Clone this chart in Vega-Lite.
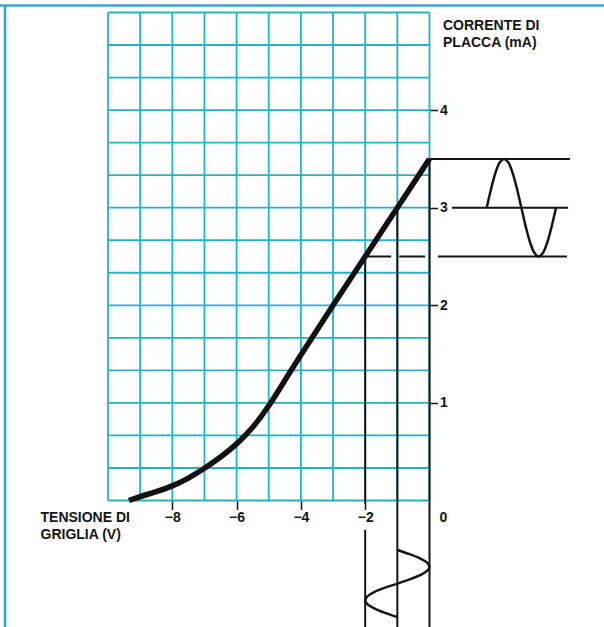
{
  "$schema": "https://vega.github.io/schema/vega-lite/v6.json",
  "width": 604,
  "height": 627,
  "autosize": {"type": "none"},
  "padding": 0,
  "background": "#ffffff",
  "config": {"view": {"stroke": null}, "font": "Liberation Sans"},
  "datasets": {
    "gridV": [{"v": -10}, {"v": -9}, {"v": -8}, {"v": -7}, {"v": -6}, {"v": -5}, {"v": -4}, {"v": -3}, {"v": -2}, {"v": -1}, {"v": 0}],
    "gridH": [{"m": 0}, {"m": 0.3333}, {"m": 0.6667}, {"m": 1}, {"m": 1.3333}, {"m": 1.6667}, {"m": 2}, {"m": 2.3333}, {"m": 2.6667}, {"m": 3}, {"m": 3.3333}, {"m": 3.6667}, {"m": 4}, {"m": 4.3333}, {"m": 4.6667}, {"m": 5}],
    "guides": [
      {"x1": -2, "x2": -2, "y1": 2.5, "y2": -0.03},
      {"x1": -2, "x2": -2, "y1": -0.30, "y2": -1.30},
      {"x1": -1, "x2": -1, "y1": 3, "y2": -1.30},
      {"x1": 0, "x2": 0, "y1": 3.5, "y2": -1.30},
      {"x1": 0, "x2": 4.37, "y1": 3.5, "y2": 3.5},
      {"x1": 0.70, "x2": 4.31, "y1": 3, "y2": 3},
      {"x1": 0.26, "x2": 4.28, "y1": 2.5, "y2": 2.5}
    ],
    "dashed": [{"x1": -2, "x2": 0, "y1": 2.5, "y2": 2.5}],
    "curve": [
      {"vg": -9.35, "ia": 0.0}, {"vg": -9.0, "ia": 0.04}, {"vg": -8.5, "ia": 0.09}, {"vg": -8.0, "ia": 0.15},
      {"vg": -7.5, "ia": 0.23}, {"vg": -7.0, "ia": 0.33}, {"vg": -6.5, "ia": 0.445}, {"vg": -6.0, "ia": 0.58},
      {"vg": -5.5, "ia": 0.75}, {"vg": -5.0, "ia": 0.97}, {"vg": -4.5, "ia": 1.23}, {"vg": -4.0, "ia": 1.49},
      {"vg": -3.0, "ia": 2.0}, {"vg": -2.0, "ia": 2.5}, {"vg": -1.0, "ia": 3.0}, {"vg": 0.0, "ia": 3.5}
    ],
    "sineOut": [
      {"k": 0, "vg": 1.780, "ia": 3.0}, {"k": 1, "vg": 1.915, "ia": 3.191}, {"k": 2, "vg": 2.049, "ia": 3.354},
      {"k": 3, "vg": 2.184, "ia": 3.462}, {"k": 4, "vg": 2.319, "ia": 3.5}, {"k": 5, "vg": 2.453, "ia": 3.462},
      {"k": 6, "vg": 2.588, "ia": 3.354}, {"k": 7, "vg": 2.723, "ia": 3.191}, {"k": 8, "vg": 2.858, "ia": 3.0},
      {"k": 9, "vg": 2.992, "ia": 2.809}, {"k": 10, "vg": 3.127, "ia": 2.646}, {"k": 11, "vg": 3.262, "ia": 2.538},
      {"k": 12, "vg": 3.396, "ia": 2.5}, {"k": 13, "vg": 3.531, "ia": 2.538}, {"k": 14, "vg": 3.666, "ia": 2.646},
      {"k": 15, "vg": 3.800, "ia": 2.809}, {"k": 16, "vg": 3.935, "ia": 3.0}
    ],
    "sineIn": [
      {"k": 0, "vg": -1.0, "ia": -0.507}, {"k": 1, "vg": -0.617, "ia": -0.550}, {"k": 2, "vg": -0.293, "ia": -0.593},
      {"k": 3, "vg": -0.076, "ia": -0.636}, {"k": 4, "vg": 0.0, "ia": -0.679}, {"k": 5, "vg": -0.076, "ia": -0.722},
      {"k": 6, "vg": -0.293, "ia": -0.765}, {"k": 7, "vg": -0.617, "ia": -0.808}, {"k": 8, "vg": -1.0, "ia": -0.851},
      {"k": 9, "vg": -1.383, "ia": -0.893}, {"k": 10, "vg": -1.707, "ia": -0.936}, {"k": 11, "vg": -1.924, "ia": -0.979},
      {"k": 12, "vg": -2.0, "ia": -1.022}, {"k": 13, "vg": -1.924, "ia": -1.065}, {"k": 14, "vg": -1.707, "ia": -1.108},
      {"k": 15, "vg": -1.383, "ia": -1.151}, {"k": 16, "vg": -1.0, "ia": -1.194}
    ]
  },
  "layer": [
    {
      "data": {"name": "gridV"},
      "mark": {"type": "rule", "color": "#22b3c7", "strokeWidth": 1.8},
      "encoding": {
        "x": {"field": "v", "type": "quantitative"},
        "y": {"datum": 0, "type": "quantitative"},
        "y2": {"datum": 5}
      }
    },
    {
      "data": {"name": "gridH"},
      "mark": {"type": "rule", "color": "#22b3c7", "strokeWidth": 1.8},
      "encoding": {
        "x": {"datum": -10, "type": "quantitative"},
        "x2": {"datum": 0},
        "y": {"field": "m", "type": "quantitative"}
      }
    },
    {
      "data": {"values": [{}]},
      "mark": {"type": "rule", "color": "#3aa6d8", "strokeWidth": 2.6},
      "encoding": {
        "x": {"datum": -13.36, "type": "quantitative"},
        "x2": {"datum": 5.43},
        "y": {"datum": 5.0717, "type": "quantitative"}
      }
    },
    {
      "data": {"values": [{}]},
      "mark": {"type": "rule", "color": "#3aa6d8", "strokeWidth": 2.6},
      "encoding": {
        "x": {"datum": -13.204, "type": "quantitative"},
        "y": {"datum": 5.0717, "type": "quantitative"},
        "y2": {"datum": -1.3}
      }
    },
    {
      "data": {"name": "guides"},
      "mark": {"type": "rule", "color": "#151515", "strokeWidth": 2},
      "encoding": {
        "x": {"field": "x1", "type": "quantitative"},
        "x2": {"field": "x2"},
        "y": {"field": "y1", "type": "quantitative"},
        "y2": {"field": "y2"}
      }
    },
    {
      "data": {"name": "dashed"},
      "mark": {"type": "rule", "color": "#151515", "strokeWidth": 2, "strokeDash": [26, 8]},
      "encoding": {
        "x": {"field": "x1", "type": "quantitative"},
        "x2": {"field": "x2"},
        "y": {"field": "y1", "type": "quantitative"},
        "y2": {"field": "y2"}
      }
    },
    {
      "data": {"name": "curve"},
      "mark": {"type": "line", "color": "#111111", "strokeWidth": 5.5, "interpolate": "natural", "strokeCap": "butt"},
      "encoding": {
        "x": {
          "field": "vg", "type": "quantitative",
          "scale": {"domain": [-13.359, 5.428], "nice": false, "zero": false},
          "axis": {
            "orient": "bottom", "offset": -126.5, "values": [-8, -6, -4, -2],
            "domain": false, "grid": false,
            "tickSize": 9, "tickWidth": 1.5, "tickColor": "#151515",
            "labelFont": "Liberation Sans",
            "labelFontSize": 14, "labelFontWeight": "bold", "labelColor": "#151515", "labelPadding": 1,
            "title": ["TENSIONE DI", "GRIGLIA (V)"],
            "titleFont": "Liberation Sans",
            "titleFontSize": 14, "titleFontWeight": "bold", "titleColor": "#151515",
            "titleAngle": 0, "titleAlign": "left", "titleBaseline": "top",
            "titleX": 40, "titleY": 10, "titleLineHeight": 17
          }
        },
        "y": {
          "field": "ia", "type": "quantitative",
          "scale": {"domain": [-1.296, 5.128], "nice": false, "zero": false},
          "axis": {
            "orient": "right", "offset": -174.5, "values": [1, 2, 3, 4], "format": "d",
            "domain": false, "grid": false,
            "tickSize": 8, "tickWidth": 1.5, "tickColor": "#151515",
            "labelFont": "Liberation Sans",
            "labelFontSize": 14, "labelFontWeight": "bold", "labelColor": "#151515", "labelPadding": 2,
            "labelAlign": "left",
            "title": ["CORRENTE DI", "PLACCA (mA)"],
            "titleFont": "Liberation Sans",
            "titleFontSize": 14, "titleFontWeight": "bold", "titleColor": "#151515",
            "titleAngle": 0, "titleAlign": "left", "titleBaseline": "top",
            "titleX": 13, "titleY": 18, "titleLineHeight": 17
          }
        }
      }
    },
    {
      "data": {"name": "sineOut"},
      "mark": {"type": "line", "color": "#151515", "strokeWidth": 2.5, "interpolate": "catmull-rom"},
      "encoding": {
        "x": {"field": "vg", "type": "quantitative"},
        "y": {"field": "ia", "type": "quantitative"},
        "order": {"field": "k", "type": "quantitative"}
      }
    },
    {
      "data": {"name": "sineIn"},
      "mark": {"type": "line", "color": "#151515", "strokeWidth": 2.5, "interpolate": "catmull-rom"},
      "encoding": {
        "x": {"field": "vg", "type": "quantitative"},
        "y": {"field": "ia", "type": "quantitative"},
        "order": {"field": "k", "type": "quantitative"}
      }
    },
    {
      "data": {"values": [{"t": "0"}]},
      "mark": {"type": "text", "font": "Liberation Sans", "fontSize": 14, "fontWeight": "bold", "color": "#151515", "align": "left", "baseline": "top", "dx": 10, "dy": 10},
      "encoding": {
        "text": {"field": "t"},
        "x": {"datum": 0, "type": "quantitative"},
        "y": {"datum": 0, "type": "quantitative"}
      }
    }
  ]
}
